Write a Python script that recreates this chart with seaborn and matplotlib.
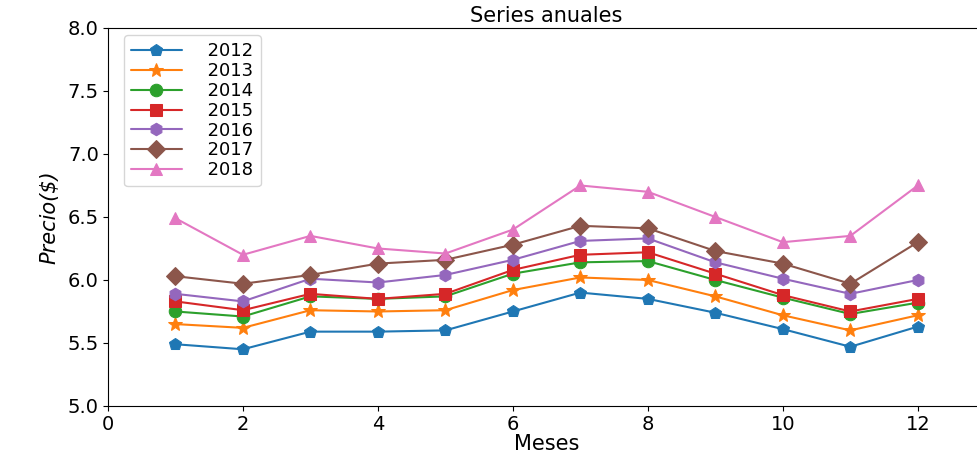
import matplotlib
matplotlib.use("Agg")
import matplotlib.pyplot as plt
import seaborn as sns
import pandas as pd

meses = list(range(1, 13))
years = ["2012", "2013", "2014", "2015", "2016", "2017", "2018"]
v2012 = [5.49, 5.45, 5.59, 5.59, 5.60, 5.75, 5.90, 5.85, 5.74, 5.61, 5.47, 5.63]
v2013 = [5.65, 5.62, 5.76, 5.75, 5.76, 5.92, 6.02, 6.00, 5.87, 5.72, 5.60, 5.72]
v2014 = [5.75, 5.71, 5.87, 5.85, 5.87, 6.05, 6.14, 6.15, 6.00, 5.86, 5.73, 5.82]
v2015 = [5.83, 5.76, 5.89, 5.85, 5.89, 6.08, 6.20, 6.22, 6.05, 5.88, 5.75, 5.85]
v2016 = [5.89, 5.83, 6.01, 5.98, 6.04, 6.16, 6.31, 6.33, 6.14, 6.01, 5.89, 6.00]
v2017 = [6.03, 5.97, 6.04, 6.13, 6.16, 6.28, 6.43, 6.41, 6.23, 6.13, 5.97, 6.30]
v2018 = [6.49, 6.20, 6.35, 6.25, 6.21, 6.40, 6.75, 6.70, 6.50, 6.30, 6.35, 6.75]
values = [v2012, v2013, v2014, v2015, v2016, v2017, v2018]
markers = ["p", "*", "o", "s", "h", "D", "^"]

sns.set_style("ticks")
plt.rcParams['font.family'] = ['DejaVu Sans']
plt.rcParams['text.color'] = 'black'
plt.rcParams['axes.labelcolor'] = 'black'
plt.rcParams['xtick.color'] = 'black'
plt.rcParams['ytick.color'] = 'black'

fig = plt.figure(figsize=(9.77, 4.53), dpi=100)
ax = fig.add_axes([0.1105, 0.1038, 0.898, 0.8344])
palette = sns.color_palette("tab10", 7)

for i, (y, vals) in enumerate(zip(years, values)):
    df = pd.DataFrame({"Meses": meses, "Precio": vals})
    sns.lineplot(data=df, x="Meses", y="Precio", ax=ax, color=palette[i],
                 marker=markers[i], markersize=10 if markers[i] == "*" else 9,
                 markeredgecolor=palette[i], linewidth=1.5, label="  " + y)

ax.set_xlim(0, 13)
ax.set_ylim(5.0, 8.0)
ax.set_xticks([0, 2, 4, 6, 8, 10, 12])
ax.set_yticks([5.0, 5.5, 6.0, 6.5, 7.0, 7.5, 8.0])
ax.set_yticklabels(["5.0", "5.5", "6.0", "6.5", "7.0", "7.5", "8.0"])
ax.tick_params(labelsize=14, pad=3)
ax.set_xlabel("Meses", fontsize=15, labelpad=0)
ax.set_ylabel("Precio($)", fontsize=15, fontstyle="italic", labelpad=6)
ax.set_title("Series anuales", fontsize=15, pad=4)
for s in ax.spines.values():
    s.set_visible(True)
    s.set_color("black")
ax.legend(loc="upper left", fontsize=13, frameon=True, handlelength=2.8,
          borderaxespad=0.4, labelspacing=0.1, bbox_to_anchor=(0.01, 1.0))

fig.savefig("out.png", dpi=100)
